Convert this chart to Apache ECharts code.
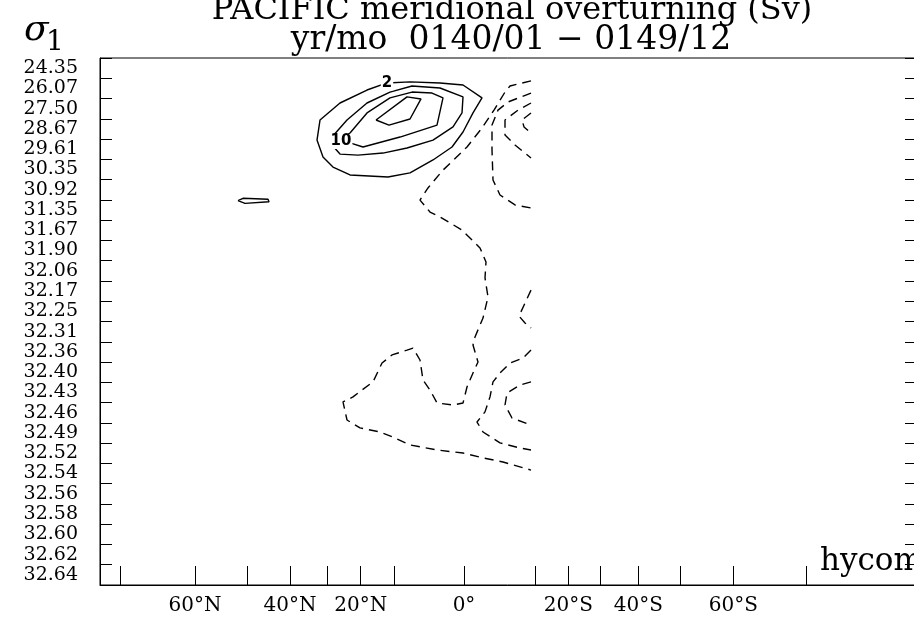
<!DOCTYPE html>
<html>
<head>
<meta charset="utf-8">
<script src="https://cdn.jsdelivr.net/npm/echarts@6/dist/echarts.min.js"></script>
<style>html,body{margin:0;padding:0;background:#fff}#c{width:914px;height:618px}</style>
</head>
<body>
<div id="c"></div>
<script>
// ---- data ----
const titleLine1 = 'PACIFIC meridional overturning (Sv)';
const titleLine2 = 'yr/mo  0140/01 \u2212 0149/12';
const yAxisTitle = '\u03c3';
const yAxisTitleSub = '1';
const modelTag = 'hycom';

// sigma-1 layer labels (top to bottom)
const sigmaLabels = ['24.35','26.07','27.50','28.67','29.61','30.35','30.92','31.35','31.67','31.90',
  '32.06','32.17','32.25','32.31','32.36','32.40','32.43','32.46','32.49','32.52','32.54','32.56',
  '32.58','32.60','32.62','32.64'];

// latitude axis expressed in model grid index j
const latTickJ = [4.14, 19, 29.46, 38, 45.46, 52.14, 58.8, 72.8, 87, 93.66, 100.14, 107.66, 116.14, 126.66, 141.2];
const latLabelJ = [19, 38, 52.14, 72.8, 93.66, 107.66, 126.66];
const latLabelText = ['60\u00b0N', '40\u00b0N', '20\u00b0N', '0\u00b0', '20\u00b0S', '40\u00b0S', '60\u00b0S'];

// positive contours [j, layer]
const contour2 = [[57.4,1.73],[62,1.68],[68,1.73],[72.6,1.83],[76.4,2.47],[74.6,3.21],[72.6,4.15],[70.4,4.89],
  [66.6,5.53],[62,6.17],[57.6,6.37],[50,6.27],[46.6,5.88],[44.6,5.38],[43.4,4.55],[44,3.56],[48,2.72],[53.4,2.08],[57.4,1.73]];
const contour6 = [[46.4,4.40],[49.4,3.56],[53.4,2.72],[58,2.18],[62.4,1.88],[68,1.98],[72.6,2.42],[72.4,3.21],
  [70.6,3.90],[66.6,4.55],[61.4,4.94],[56.6,5.19],[51.6,5.29],[48,5.24],[46.4,4.79],[46.4,4.40]];
const contour10 = [[47.6,4.55],[50,4.69],[52.6,4.89],[60,4.40],[67.4,3.81],[68.6,2.47],[66.4,2.23],[62.4,2.18],
  [58,2.47],[53.4,3.21],[50,4.20],[47.6,4.55]];
const contour14 = [[55.2,3.56],[57.8,3.81],[62,3.51],[64.2,2.52],[61.4,2.42],[55.2,3.56]];
const contourSmall = [[27.6,7.54],[28.6,7.42],[33.6,7.47],[33.8,7.59],[29,7.67],[27.6,7.54]];

// negative contours [j, layer]
const negA = [[86.2,1.63],[82,1.88],[81,2.18],[78.8,3.07],[76.4,3.95],[73.4,4.89],[68.6,6.03],[65.6,6.91],[64,7.51],
  [66,8.10],[68,8.34],[72.4,8.99],[76,9.87],[77.2,10.56],[77,11.35],[77.6,12.29],[76.6,13.33],[75,14.26],[74.6,14.66],
  [75.6,15.50],[74.6,16.04],[73.4,16.73],[72.6,17.52],[70.6,17.62],[67.4,17.52],[66,16.88],[64.6,16.39],[64,15.40],
  [62.6,14.81],[61.4,14.91],[58.4,15.15],[56.4,15.55],[54.6,16.48],[52.4,16.88],[50.6,17.22],[48.6,17.47],[49.4,18.36],
  [52,18.75],[56,18.95],[58.6,19.20],[62,19.59],[67.4,19.84],[72.6,19.99],[76.6,20.23],[80.6,20.43],[86.2,20.83]];
const negB = [[86.2,2.23],[81.6,2.67],[79.6,3.07],[78.4,3.81],[78.4,5.04],[78.6,6.52],[80,7.26],[83,7.75],[86.2,7.90]];
const negC = [[86.2,2.72],[83.6,3.07],[81,3.56],[81,4.30],[83,4.79],[86.2,5.43]];
const negD = [[86.2,3.21],[84.4,3.56],[84.8,3.90],[86.2,4.20]];
const negE = [[86.2,11.95],[85,12.59],[83.8,13.23],[85,13.57],[86.2,13.82]];
const negF = [[86.2,14.91],[84.6,15.30],[82,15.55],[80,16.04],[78.6,16.48],[78,17.22],[77,17.96],[75.4,18.46],
  [76.6,18.95],[80,19.49],[84,19.74],[86.2,19.84]];
const negG = [[86.2,16.48],[84,16.63],[81.4,17.03],[81,17.62],[82.4,18.26],[86.2,18.61]];

// contour labels [j, layer, text]
const contourLabels = [[57.4,1.73,'2'],[48.2,4.62,'10']];

// ---- chart ----
const chart = echarts.init(document.getElementById('c'), null, {renderer: 'canvas'});
const FONT = 'DejaVu Serif';
const solid = {color: '#000', width: 1.4, type: 'solid'};
const dashed = {color: '#000', width: 1.4, type: [9, 6]};
function lineSeries(name, data, style) {
  return {name, type: 'line', xAxisIndex: 0, yAxisIndex: 2, data, showSymbol: false, symbol: 'none',
    lineStyle: style, silent: true, animation: false, z: 3, clip: false};
}
const series = [
  lineSeries('c2', contour2, solid), lineSeries('c6', contour6, solid), lineSeries('c10', contour10, solid),
  lineSeries('c14', contour14, solid), lineSeries('cs', contourSmall, solid),
  lineSeries('nA', negA, dashed), lineSeries('nB', negB, dashed), lineSeries('nC', negC, dashed),
  lineSeries('nD', negD, dashed), lineSeries('nE', negE, dashed), lineSeries('nF', negF, dashed),
  lineSeries('nG', negG, dashed),
  {type: 'scatter', xAxisIndex: 0, yAxisIndex: 2, data: contourLabels.map(d => [d[0], d[1], d[2]]),
    symbolSize: 0, itemStyle: {color: '#000', opacity: 1}, z: 5, animation: false, silent: true,
    label: {show: true, position: 'inside', formatter: p => p.data[2], color: '#000', opacity: 1,
      fontFamily: 'DejaVu Sans', fontSize: 15, fontWeight: 'bold', backgroundColor: '#fff', padding: [0, 1],
      textBorderWidth: 0}}
];

const option = {
  backgroundColor: '#fff',
  animation: false,
  grid: {left: 100, right: -1, top: 58, bottom: 33, show: true, borderColor: '#000', borderWidth: 1,
    containLabel: false, outerBoundsMode: 'none'},
  xAxis: [{
    type: 'value', min: 0, max: 163, position: 'bottom',
    axisLine: {show: true, lineStyle: {color: '#000', width: 1}},
    axisTick: {show: true, inside: true, length: 19, customValues: latTickJ, lineStyle: {color: '#000', width: 1}},
    axisLabel: {show: true, customValues: latLabelJ, margin: 11, color: '#000', fontFamily: FONT, fontSize: 20,
      formatter: v => { const i = latLabelJ.findIndex(x => Math.abs(x - v) < 1e-6); return i >= 0 ? latLabelText[i] : ''; }},
    splitLine: {show: false}
  }],
  yAxis: [{
    type: 'category', data: sigmaLabels, inverse: true, position: 'left',
    axisLine: {show: true, lineStyle: {color: '#000', width: 1}},
    axisTick: {show: true, inside: true, length: 12, lineStyle: {color: '#000', width: 1}},
    axisLabel: {show: true, margin: 22, color: '#000', fontFamily: FONT, fontSize: 19, interval: 0},
    splitLine: {show: false}
  }, {
    type: 'category', data: sigmaLabels, inverse: true, position: 'right',
    axisLine: {show: true, lineStyle: {color: '#000', width: 1}},
    axisTick: {show: true, inside: true, length: 10, lineStyle: {color: '#000', width: 1}},
    axisLabel: {show: false}, splitLine: {show: false}
  }, {
    type: 'value', min: 0.5, max: 26.5, inverse: true, show: false, splitLine: {show: false}
  }],
  graphic: [
    {type: 'text', x: 512, y: 11, style: {text: titleLine1, fill: '#000', font: '32px "DejaVu Serif"', textAlign: 'center', textVerticalAlign: 'middle'}},
    {type: 'text', x: 511, y: 40, style: {text: titleLine2, fill: '#000', font: '33px "DejaVu Serif"', textAlign: 'center', textVerticalAlign: 'middle'}},
    {type: 'text', x: 24, y: 31, style: {text: yAxisTitle, fill: '#000', font: 'italic 36px "DejaVu Serif"', textAlign: 'left', textVerticalAlign: 'middle'}},
    {type: 'text', x: 46, y: 43, style: {text: yAxisTitleSub, fill: '#000', font: '28px "DejaVu Serif"', textAlign: 'left', textVerticalAlign: 'middle'}},
    {type: 'text', x: 820, y: 562, style: {text: modelTag, fill: '#000', font: '31px "DejaVu Serif"', textAlign: 'left', textVerticalAlign: 'middle'}}
  ],
  series
};
chart.setOption(option);
</script>
</body>
</html>
